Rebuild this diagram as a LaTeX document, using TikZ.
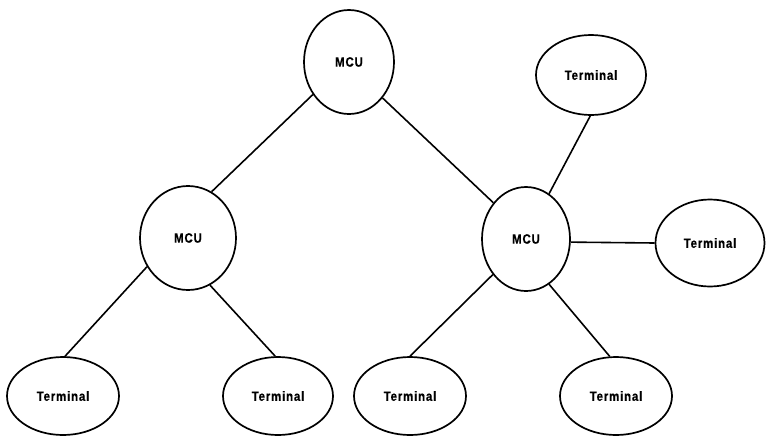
\documentclass[tikz,border=0pt]{standalone}
\usepackage{fontspec}
\setmainfont{Liberation Sans}
\newfontfamily\labfont[FakeStretch=0.85,LetterSpace=6,FakeBold=0.6]{Liberation Sans}
\usetikzlibrary{shapes.geometric}
\begin{document}
\begin{tikzpicture}[x=1pt,y=-1pt,
  unit/.style={draw=black, line width=1.7pt, ellipse, inner sep=0pt,
    font=\labfont\fontsize{13.5}{15}\selectfont\bfseries},
  link/.style={draw=black, line width=1.6pt}]
\useasboundingbox (0,0) rectangle (771,437);
\node[unit, minimum width=90pt, minimum height=104pt] (top) at (349,62) {MCU};
\node[unit, minimum width=96pt, minimum height=104pt] (lm) at (188,238) {MCU};
\node[unit, minimum width=88pt, minimum height=104pt] (rm) at (526,239) {MCU};
\node[unit, minimum width=110pt, minimum height=80pt] (ttr) at (591,75) {Terminal};
\node[unit, minimum width=109pt, minimum height=87pt] (tr) at (710,243) {Terminal};
\node[unit, minimum width=112pt, minimum height=78pt] (t1) at (63,396) {Terminal};
\node[unit, minimum width=110pt, minimum height=78pt] (t2) at (278,396) {Terminal};
\node[unit, minimum width=112pt, minimum height=78pt] (t3) at (410,396) {Terminal};
\node[unit, minimum width=112pt, minimum height=78pt] (t4) at (616,396) {Terminal};
\draw[link] (top.222) -- (lm.63);
\draw[link] (top.313) -- (rm.132);
\draw[link] (rm.63) -- (ttr.269);
\draw[link] (rm.-4) -- (tr.180);
\draw[link] (lm.215) -- (t1.87);
\draw[link] (lm.295) -- (t2.94);
\draw[link] (rm.227) -- (t3.90);
\draw[link] (rm.297) -- (t4.99);
\end{tikzpicture}
\end{document}
